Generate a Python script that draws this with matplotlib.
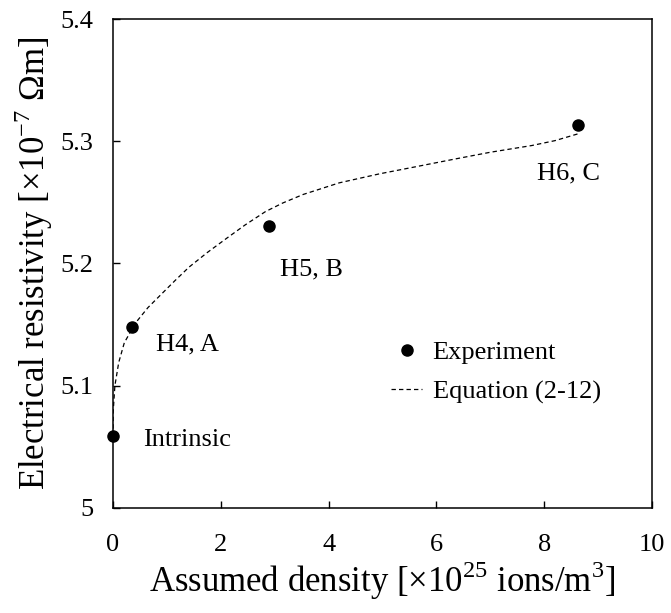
import numpy as np
import matplotlib
matplotlib.use("Agg")
import matplotlib.pyplot as plt
from matplotlib.ticker import FuncFormatter

plt.rcParams['font.family'] = ['Liberation Serif', 'DejaVu Serif']
plt.rcParams['mathtext.fontset'] = 'custom'
plt.rcParams['mathtext.rm'] = 'Liberation Serif'

# measured resistivity
exp_density = [0.0, 0.353, 2.90, 8.63]
exp_rho = [5.0588, 5.148, 5.2306, 5.3136]
exp_names = ['Intrinsic', 'H4, A', 'H5, B', 'H6, C']
label_x = [0.565, 0.80, 3.09, 7.87]
label_y = [5.0553, 5.1339, 5.1954, 5.2734]

# curve from Equation (2-12)
eq_density = [0.0, 0.003, 0.035, 0.106, 0.21, 0.42, 0.65, 0.92, 1.15, 1.41,
              1.75, 2.12, 2.45, 2.83, 3.15, 3.53, 4.2, 4.95, 5.6, 6.36,
              7.0, 7.77, 8.2, 8.66]
eq_rho = [5.0588, 5.0783, 5.100, 5.119, 5.1352, 5.1515, 5.164, 5.1759, 5.186,
          5.197, 5.209, 5.221, 5.2315, 5.2425, 5.2495, 5.2565, 5.266, 5.2734,
          5.279, 5.2856, 5.291, 5.2965, 5.3005, 5.3065]

fig = plt.figure(figsize=(6.71, 6.13), dpi=100)
ax = fig.add_axes([0.1684, 0.1713, 0.8033, 0.7977])

ax.plot(exp_density, exp_rho, 'o', color='black', markersize=8,
        label='Experiment', zorder=3, clip_on=False)
ax.plot(eq_density, eq_rho, color='black', linewidth=0.9,
        dashes=(3.5, 2.5), label='Equation (2-12)')

for name, tx, ty in zip(exp_names, label_x, label_y):
    ax.text(tx, ty, name, fontsize=19, ha='left', va='center')

ax.set_xlim(0, 10)
ax.set_ylim(5.0, 5.4)
ax.set_xticks(np.arange(0, 11, 2))
ax.set_yticks([5.0, 5.1, 5.2, 5.3, 5.4])
ax.yaxis.set_major_formatter(FuncFormatter(lambda v, p: '5' if abs(v - 5) < 1e-9 else f'{v:.1f}'))
ax.tick_params(direction='in', length=5, width=1, labelsize=19)
ax.tick_params(axis='x', pad=19)
ax.tick_params(axis='y', pad=14)
for s in ax.spines.values():
    s.set_linewidth(1.1)

ax.set_xlabel(r'Assumed density [$\times$10$^{25}$ ions/m$^{3}$]', fontsize=25, labelpad=2)
ax.set_ylabel(r'Electrical resistivity [$\times$10$^{-7}$ $\Omega$m]', fontsize=25, labelpad=4)

ax.legend(loc='center left', bbox_to_anchor=(0.516, 0.278), frameon=False,
          fontsize=19, handlelength=1.17, handletextpad=0.4, labelspacing=0.6,
          borderpad=0, borderaxespad=0)

fig.savefig('out.png', dpi=100)
